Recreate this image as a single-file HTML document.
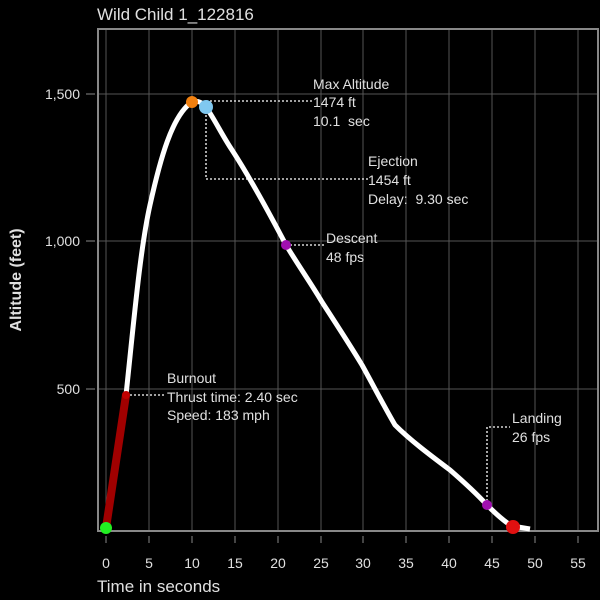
<!DOCTYPE html>
<html><head><style>
body{margin:0;background:#000;width:600px;height:600px;overflow:hidden}
svg{display:block}
text{font-family:"Liberation Sans",sans-serif;fill:#e0e0e0;white-space:pre}
</style></head><body>
<svg width="600" height="600" viewBox="0 0 600 600">
<rect width="600" height="600" fill="#000"/>
<text x="97" y="20" font-size="17" fill="#ccc">Wild Child 1_122816</text>
<g stroke="#555" stroke-width="1">
<line x1="106" y1="28" x2="106" y2="531"/><line x1="149" y1="28" x2="149" y2="531"/><line x1="192" y1="28" x2="192" y2="531"/><line x1="235" y1="28" x2="235" y2="531"/><line x1="278" y1="28" x2="278" y2="531"/><line x1="321" y1="28" x2="321" y2="531"/><line x1="363" y1="28" x2="363" y2="531"/><line x1="406" y1="28" x2="406" y2="531"/><line x1="449" y1="28" x2="449" y2="531"/><line x1="492" y1="28" x2="492" y2="531"/><line x1="535" y1="28" x2="535" y2="531"/><line x1="578" y1="28" x2="578" y2="531"/>
<line x1="97" y1="94" x2="599" y2="94"/><line x1="97" y1="241" x2="599" y2="241"/><line x1="97" y1="389" x2="599" y2="389"/>
</g>
<rect x="98" y="29" width="500" height="502" fill="none" stroke="#888" stroke-width="2"/>
<g stroke="#888" stroke-width="1">
<line x1="86" y1="94" x2="95" y2="94"/><line x1="86" y1="241" x2="95" y2="241"/><line x1="86" y1="389" x2="95" y2="389"/>
<line x1="106" y1="536" x2="106" y2="543"/><line x1="149" y1="536" x2="149" y2="543"/><line x1="192" y1="536" x2="192" y2="543"/><line x1="235" y1="536" x2="235" y2="543"/><line x1="278" y1="536" x2="278" y2="543"/><line x1="321" y1="536" x2="321" y2="543"/><line x1="363" y1="536" x2="363" y2="543"/><line x1="406" y1="536" x2="406" y2="543"/><line x1="449" y1="536" x2="449" y2="543"/><line x1="492" y1="536" x2="492" y2="543"/><line x1="535" y1="536" x2="535" y2="543"/><line x1="578" y1="536" x2="578" y2="543"/>
</g>
<g font-size="14" text-anchor="end"><text x="80" y="99">1,500</text><text x="80" y="246">1,000</text><text x="80" y="394">500</text></g>
<g font-size="14" text-anchor="middle"><text x="106" y="568">0</text><text x="149" y="568">5</text><text x="192" y="568">10</text><text x="235" y="568">15</text><text x="278" y="568">20</text><text x="321" y="568">25</text><text x="363" y="568">30</text><text x="406" y="568">35</text><text x="449" y="568">40</text><text x="492" y="568">45</text><text x="535" y="568">50</text><text x="578" y="568">55</text></g>
<text x="97" y="592" font-size="17" fill="#ccc">Time in seconds</text>
<text transform="translate(21,280) rotate(-90)" font-size="16" font-weight="bold" text-anchor="middle" fill="#ccc">Altitude (feet)</text>
<path d="M126,395 C134,320 140,250 150,205 C160,160 172,115 192,102 C198,100 203,103 206,107 C215,120 222,135 232,150 C245,170 265,205 286,245 C300,268 312,285 322,302 C335,322 350,345 362,365 C372,383 385,408 395,425 C410,440 430,455 450,470 C465,483 475,492 487,505 C497,515 505,522 512,526 L530,529" fill="none" stroke="#fff" stroke-width="5" stroke-linejoin="round"/>
<line x1="106" y1="528" x2="126" y2="395" stroke="#a00000" stroke-width="8"/>
<g stroke="#fff" stroke-width="1.3" stroke-dasharray="2,2" fill="none">
<polyline points="206,101 313,101"/>
<polyline points="206,107 206,179 368,179"/>
<polyline points="286,245 325,245"/>
<polyline points="126,395 165,395"/>
<polyline points="487,505 487,427 510,427"/>
</g>
<circle cx="106" cy="528" r="6" fill="#2e2"/>
<circle cx="126" cy="395" r="4" fill="#c00000"/>
<circle cx="192" cy="102" r="6" fill="#f08010"/>
<circle cx="206" cy="107" r="7" fill="#80c8f0"/>
<circle cx="286" cy="245" r="5" fill="#a010b0"/>
<circle cx="487" cy="505" r="5" fill="#a010b0"/>
<circle cx="513" cy="527" r="7" fill="#e01010"/>
<g font-size="14">
<text x="313" y="89">Max Altitude</text><text x="313" y="107">1474 ft</text><text x="313" y="126">10.1  sec</text>
<text x="368" y="166">Ejection</text><text x="368" y="185">1454 ft</text><text x="368" y="204">Delay:  9.30 sec</text>
<text x="326" y="243">Descent</text><text x="326" y="262">48 fps</text>
<text x="167" y="383">Burnout</text><text x="167" y="402">Thrust time: 2.40 sec</text><text x="167" y="420">Speed: 183 mph</text>
<text x="512" y="423">Landing</text><text x="512" y="442">26 fps</text>
</g>
</svg>
</body></html>
